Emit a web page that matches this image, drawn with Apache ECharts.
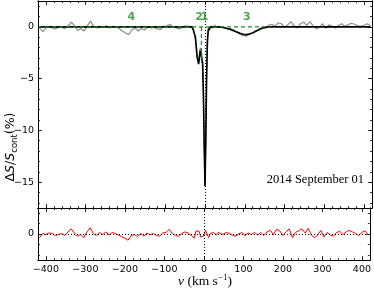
<!DOCTYPE html>
<html>
<head>
<meta charset="utf-8">
<script src="https://cdn.jsdelivr.net/npm/echarts@6/dist/echarts.min.js"></script>
<style>html,body{margin:0;padding:0;background:#fff}#c{width:374px;height:290px}</style>
</head>
<body>
<div id="c"></div>
<script>
// ---- data (km/s, %) ----
const velocity = [
-416,-408,-400,-392,-384,-376,-368,-360,-352,-344,-336,-328,-320,-312,-304,-296,-288,-280,-272,-264,-256,-248,-240,-232,-224,-216,-208,-200,-192,-184,-176,-168,-160,-152,-144,-136,-128,-120,-112,-104,-96,-88,-80,-72,-64,-56,-48,-40,
-36,-32,-28,-24,-20,-16,-12,-8,-6,-4,-2,0,2,4,6,8,12,16,20,24,28,32,36,
40,48,56,64,72,80,88,96,104,112,120,128,136,144,152,160,168,176,184,192,200,208,216,224,232,240,248,256,264,272,280,288,296,304,312,320,328,336,344,352,360,368,376,384,392,400,408,416];
const observed = [
-0.1,-0.45,-0.1,0.05,-0.1,-0.2,0.0,-0.05,-0.15,0.1,0.45,0.1,-0.35,-0.15,-0.4,0.1,0.55,0.05,-0.1,0.0,-0.05,0.1,-0.1,0.05,0.0,-0.15,-0.4,-0.6,-0.75,-0.3,-0.1,-0.4,-0.15,-0.3,0.0,-0.1,-0.05,-0.2,-0.25,0.05,0.1,0.25,0.0,-0.1,-0.2,0.0,0.1,0.05,
0.0,-0.1,-0.3,-1.3,-2.5,-3.4,-2.0,-2.6,-3.8,-7.0,-11.8,-15.5,-10.8,-4.6,-1.0,-0.1,-0.3,0.1,-0.1,0.15,0.0,-0.05,0.1,
0.0,-0.05,-0.2,-0.15,-0.3,-0.55,-0.7,-0.85,-0.9,-0.65,-0.6,-0.35,-0.3,0.0,-0.1,0.15,0.25,0.05,0.4,0.3,-0.05,0.2,0.5,0.1,-0.1,0.3,0.45,0.15,0.5,0.1,-0.2,0.0,0.3,-0.15,0.2,0.05,-0.1,0.15,0.3,0.05,0.2,0.35,0.25,0.1,0.05,0.15,0.3,0.1];
const model = [
0,0,0,0,0,0,0,0,0,0,0,0,0,0,0,0,0,0,0,0,0,0,0,0,0,0,0,0,0,0,0,0,0,0,0,0,0,0,0,0,0,0,0,0,0,0,0,0,
0,0,-0.1,-1.0,-2.9,-3.6,-2.3,-2.3,-3.5,-6.5,-11.5,-15.4,-11.0,-5.0,-1.5,-0.4,-0.05,0,0,0,0,0,0,
-0.02,-0.08,-0.16,-0.26,-0.38,-0.5,-0.62,-0.72,-0.75,-0.7,-0.58,-0.42,-0.26,-0.13,-0.05,-0.01,0,0,0,0,0,0,0,0,0,0,0,0,0,0,0,0,0,0,0,0,0,0,0,0,0,0,0,0,0,0,0,0];
const residual = [
-0.35,0.05,-0.05,0.1,0.05,-0.15,-0.05,0.05,-0.15,0.2,0.5,0.1,-0.2,-0.05,-0.35,0.2,0.6,0.05,-0.15,0.15,-0.05,0.2,-0.1,0.15,0.05,-0.1,-0.25,-0.4,-0.6,-0.15,-0.05,-0.25,0.05,-0.2,0.1,-0.1,0.05,-0.15,-0.2,0.1,0.15,0.45,0.05,-0.15,-0.2,0.05,0.2,0.1,
0.0,-0.15,-0.3,-0.4,0.3,0.15,0.25,-0.3,-0.3,-0.4,-0.2,-0.1,0.1,0.35,0.4,0.2,-0.35,0.05,-0.1,0.15,0.0,-0.1,0.15,
0.05,-0.05,0.15,0.05,-0.1,-0.2,0.0,0.15,-0.15,0.1,-0.05,0.15,-0.1,0.15,-0.15,0.2,0.35,-0.05,0.45,0.3,-0.15,0.2,0.5,-0.35,0.15,0.3,0.5,0.1,0.55,-0.1,-0.35,-0.1,0.35,-0.3,0.15,-0.1,-0.2,0.15,0.25,-0.05,0.2,0.35,0.2,0.05,-0.15,0.15,0.3,-0.1];

// component markers
const componentNames = ['4','2','1','3'];
const componentVelocity = [-185,-15,-1,105];
const componentLabelLevel = [0.9,0.9,0.9,0.9];
const componentRange = [-420,150];      // green dashed baseline extent
const componentTwoLine = [-9,0,-3.5];   // v, top, bottom of vertical marker

// axes ticks
const xRange = [-420,420];
const xMajorTicks = [-400,-300,-200,-100,0,100,200,300,400];
const xMinorTicks = [-420,-400,-380,-360,-340,-320,-300,-280,-260,-240,-220,-200,-180,-160,-140,-120,-100,-80,-60,-40,-20,0,20,40,60,80,100,120,140,160,180,200,220,240,260,280,300,320,340,360,380,400,420];
const yRange = [-17.5,2.5];
const yMajorTicks = [0,-5,-10,-15];
const yMinorTicks = [2,1,0,-1,-2,-3,-4,-5,-6,-7,-8,-9,-10,-11,-12,-13,-14,-15,-16,-17];
const resRange = [-2.5,2.5];
const resMajorTicks = [0];
const resMinorTicks = [-2,-1,0,1,2];

const fmt = v => String(v).replace('-', '\u2212');
const F = 'DejaVu Sans';

function xAx(grid, pos, ticks, len, showLabel) {
  return {type:'value', gridIndex:grid, position:pos, min:xRange[0], max:xRange[1],
    axisLine:{show:true, onZero:false, lineStyle:{color:'#000', width:1}},
    axisTick:{show:true, inside:true, length:len, customValues:ticks, lineStyle:{color:'#000', width:0.8}},
    axisLabel:{show:showLabel, customValues:ticks, formatter:fmt, color:'#000', fontFamily:F, fontSize:9.5, margin:5},
    splitLine:{show:false}};
}
function yAx(grid, pos, range, ticks, len, showLabel) {
  return {type:'value', gridIndex:grid, position:pos, min:range[0], max:range[1],
    axisLine:{show:true, onZero:false, lineStyle:{color:'#000', width:1}},
    axisTick:{show:true, inside:true, length:len, customValues:ticks, lineStyle:{color:'#000', width:0.8}},
    axisLabel:{show:showLabel, customValues:ticks, formatter:fmt, color:'#000', fontFamily:F, fontSize:9.5, margin:4},
    splitLine:{show:false}};
}

const xAxes = [
  xAx(0,'bottom',xMajorTicks,4,false), xAx(0,'bottom',xMinorTicks,2,false),
  xAx(0,'top',xMajorTicks,4,false), xAx(0,'top',xMinorTicks,2,false),
  xAx(1,'bottom',xMajorTicks,4,true), xAx(1,'bottom',xMinorTicks,2,false),
  xAx(1,'top',xMajorTicks,4,false), xAx(1,'top',xMinorTicks,2,false)
];
const yAxes = [
  yAx(0,'left',yRange,yMajorTicks,4,true), yAx(0,'left',yRange,yMinorTicks,2,false),
  yAx(0,'right',yRange,yMajorTicks,4,false), yAx(0,'right',yRange,yMinorTicks,2,false),
  yAx(1,'left',resRange,resMajorTicks,4,true), yAx(1,'left',resRange,resMinorTicks,2,false),
  yAx(1,'right',resRange,resMajorTicks,4,false), yAx(1,'right',resRange,resMinorTicks,2,false)
];

const pairs = arr => velocity.map((v,i) => [v, arr[i]]);
const green = '#1f8f1f';

const series = [
  {type:'line', xAxisIndex:0, yAxisIndex:0, data:pairs(observed), symbol:'none',
   lineStyle:{color:'#8c8c8c', width:1.2}, z:2,
   markLine:{silent:true, symbol:'none', label:{show:false}, lineStyle:{color:'#000', type:[1,2], width:1}, data:[{xAxis:0}]}},
  {type:'line', xAxisIndex:0, yAxisIndex:0, data:pairs(model), symbol:'none',
   lineStyle:{color:'#000', width:1.6}, z:3},
  {type:'line', xAxisIndex:0, yAxisIndex:0, data:[[componentRange[0],0],[componentRange[1],0]], symbol:'none',
   lineStyle:{color:green, width:1.2, type:[4,3]}, z:4, silent:true},
  {type:'line', xAxisIndex:0, yAxisIndex:0, data:[[componentTwoLine[0],componentTwoLine[1]],[componentTwoLine[0],componentTwoLine[2]]], symbol:'none',
   lineStyle:{color:green, width:1.2, type:[4,3]}, z:4, silent:true},
  {type:'scatter', xAxisIndex:0, yAxisIndex:0, symbolSize:0,
   data:componentNames.map((n,i)=>({name:n, value:[componentVelocity[i], componentLabelLevel[i]]})),
   label:{show:true, position:'inside', formatter:p=>p.name, color:green, fontFamily:F, fontSize:11, fontWeight:'bold'}, z:5},
  {type:'line', xAxisIndex:4, yAxisIndex:4, data:pairs(residual), symbol:'none',
   lineStyle:{color:'#ff0000', width:1}, z:3,
   markLine:{silent:true, symbol:'none', label:{show:false}, lineStyle:{color:'#000', type:[1,2], width:1}, data:[{xAxis:0},{yAxis:0}]}}
];

const chart = echarts.init(document.getElementById('c'), null, {renderer:'canvas'});
chart.setOption({
  animation:false,
  backgroundColor:'#fff',
  grid:[{left:38, top:1, width:334, height:207}, {left:38, top:208, width:334, height:52}],
  xAxis:xAxes, yAxis:yAxes, series:series,
  graphic:[
    {type:'text', x:11, y:147, rotation:Math.PI/2,
     style:{text:'{a|\u0394}{i|S}{a|/}{i|S}{s|cont}{a|(%)}', textAlign:'center', textVerticalAlign:'middle',
       rich:{a:{fontFamily:F, fontSize:12.5, fill:'#000'}, i:{fontFamily:F, fontStyle:'italic', fontSize:12.5, fill:'#000'},
             s:{fontFamily:F, fontSize:8.5, fill:'#000', padding:[7,0,0,0]}}}},
    {type:'text', x:205, y:281,
     style:{text:'{i|v}{a| (km s}{s|\u22121}{a|)}', textAlign:'center', textVerticalAlign:'middle',
       rich:{a:{fontFamily:'Liberation Serif', fontSize:13.5, fill:'#000'}, i:{fontFamily:'Liberation Serif', fontStyle:'italic', fontSize:13.5, fill:'#000'},
             s:{fontFamily:'Liberation Serif', fontSize:9, fill:'#000', padding:[0,0,7,0]}}}},
    {type:'text', x:364, y:180,
     style:{text:'2014 September 01', textAlign:'right', textVerticalAlign:'middle', fontFamily:'Liberation Serif', fontSize:12.5, fill:'#000'}}
  ]
});
</script>
</body>
</html>
